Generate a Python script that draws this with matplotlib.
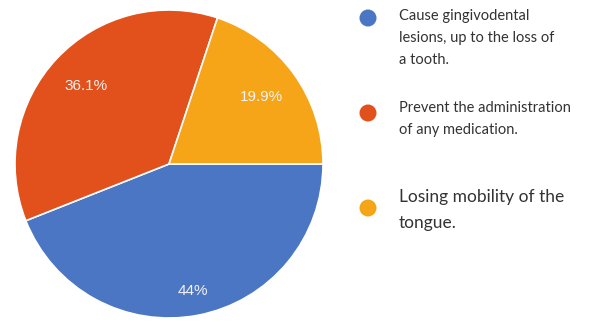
import numpy as np
import matplotlib
matplotlib.use('Agg')
import matplotlib.pyplot as plt

# data
shares = [44.0, 36.1, 19.9]
pct_labels = ['44%', '36.1%', '19.9%']
answers = ['Cause gingivodental\nlesions, up to the loss of\na tooth.',
           'Prevent the administration\nof any medication.',
           'Losing mobility of the\ntongue.']
colors = ['#4a76c4', '#e2501c', '#f5a517']

plt.rcParams['font.family'] = ['Lato', 'DejaVu Sans']

fig = plt.figure(figsize=(5.89, 3.23), dpi=100)
ax = fig.add_axes([0, 0, 1, 1])

cx, cy, r = 169, 323 - 164, 154
wedges, _ = ax.pie(shares, colors=colors, startangle=0, counterclock=False,
                   center=(cx, cy), radius=r, frame=True,
                   wedgeprops=dict(edgecolor='white', linewidth=1.2))
ax.set_xlim(0, 589)
ax.set_ylim(0, 323)
ax.set_aspect('equal')
ax.axis('off')

# percentage labels inside slices
label_dist = [0.84, 0.74, 0.74]
for w, lab, d in zip(wedges, pct_labels, label_dist):
    mid = np.deg2rad((w.theta1 + w.theta2) / 2)
    ax.text(cx + d * r * np.cos(mid), cy + d * r * np.sin(mid), lab,
            ha='center', va='center', color='#f2f2f2', fontsize=11,
            family=['Liberation Sans', 'DejaVu Sans'])

# legend, drawn by hand
dot_y = [18, 113, 208]
text_y = [9, 101, 189]
sizes = [10.5, 10.5, 12.5]
spacing = [1.75, 1.75, 1.75]
for c, txt, yd, yt, fs, ls in zip(colors, answers, dot_y, text_y, sizes, spacing):
    ax.scatter([368], [323 - yd], s=150, color=c, edgecolor='none')
    ax.text(399, 323 - yt, txt, ha='left', va='top', fontsize=fs,
            color='#333333', linespacing=ls)

fig.savefig('out.png', dpi=100)
